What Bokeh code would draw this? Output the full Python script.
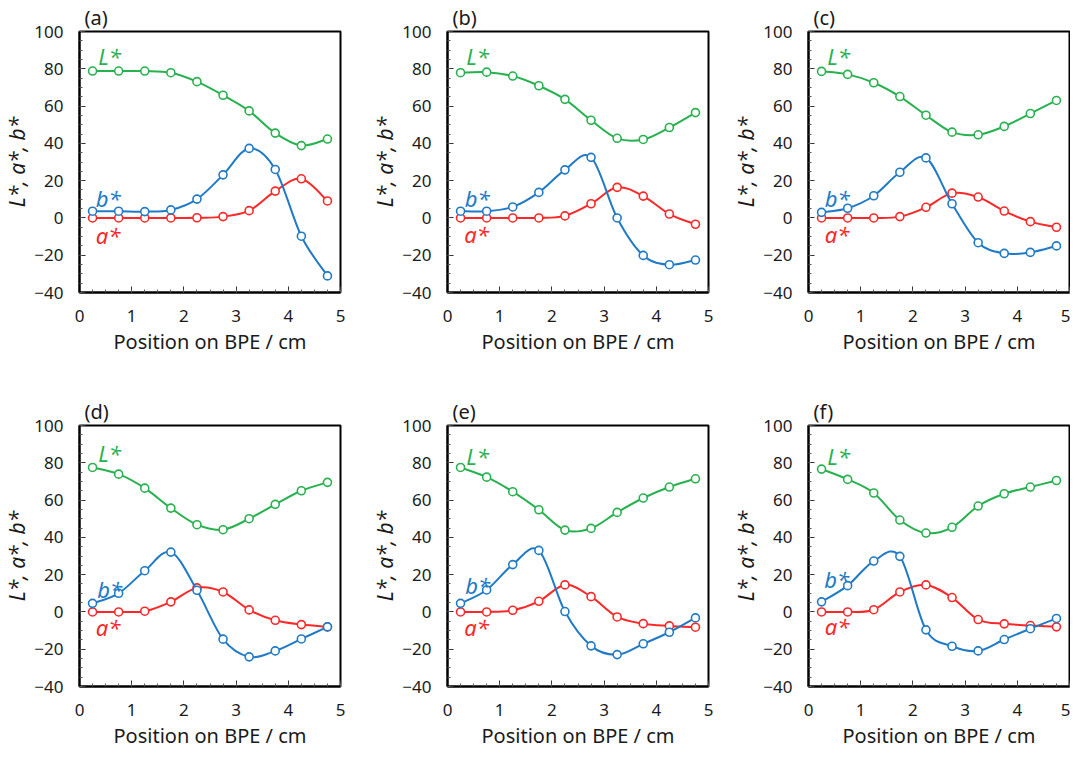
from bokeh.plotting import figure
from bokeh.layouts import row, column
from bokeh.models import SingleIntervalTicker, Range1d
from bokeh.embed import file_html
from bokeh.resources import INLINE
from bokeh.core.properties import value

# ---------------- data ----------------
position_cm = [0.25, 0.75, 1.25, 1.75, 2.25, 2.75, 3.25, 3.75, 4.25, 4.75]
panel_names = ["(a)", "(b)", "(c)", "(d)", "(e)", "(f)"]
x_ticks = [0, 1, 2, 3, 4, 5]
y_ticks = [-40, -20, 0, 20, 40, 60, 80, 100]

L_a = [78.8, 78.8, 78.8, 77.9, 73.1, 65.8, 57.4, 45.5, 38.8, 42.3]
a_a = [0.0, 0.0, 0.0, 0.0, 0.1, 0.7, 3.9, 14.4, 21.0, 9.1]
b_a = [3.6, 3.6, 3.4, 4.3, 10.1, 23.1, 37.3, 26.0, -9.8, -31.1]

L_b = [77.9, 78.2, 76.1, 70.9, 63.6, 52.4, 42.7, 42.1, 48.5, 56.5]
a_b = [0.0, 0.0, 0.0, 0.0, 1.1, 7.6, 16.4, 11.7, 2.1, -3.4]
b_b = [3.6, 3.6, 5.9, 13.7, 25.8, 32.5, 0.0, -20.1, -25.1, -22.6]

L_c = [78.6, 77.0, 72.5, 65.1, 55.1, 46.0, 44.6, 49.1, 56.0, 63.0]
a_c = [0.0, 0.0, 0.0, 0.7, 5.7, 13.3, 11.2, 3.7, -2.0, -5.0]
b_c = [3.0, 5.2, 11.9, 24.5, 32.2, 7.6, -13.3, -19.0, -18.5, -15.0]

L_d = [77.5, 73.9, 66.4, 55.7, 46.8, 44.1, 50.0, 57.7, 65.0, 69.5]
a_d = [0.0, 0.0, 0.4, 5.4, 12.9, 10.7, 1.1, -4.5, -6.8, -8.0]
b_d = [4.6, 10.0, 22.1, 32.1, 11.6, -14.6, -24.1, -20.9, -14.5, -8.0]

L_e = [77.5, 72.3, 64.5, 54.8, 43.9, 44.8, 53.4, 61.1, 67.0, 71.4]
a_e = [0.0, 0.0, 0.9, 5.7, 14.5, 8.2, -2.7, -6.3, -7.5, -8.2]
b_e = [4.6, 11.8, 25.4, 33.0, 0.2, -18.2, -22.9, -17.1, -10.9, -3.2]

L_f = [76.6, 71.1, 63.8, 49.3, 42.3, 45.4, 56.8, 63.4, 67.0, 70.5]
a_f = [0.0, 0.0, 1.2, 10.7, 14.5, 7.7, -4.1, -6.4, -7.3, -8.0]
b_f = [5.4, 14.1, 27.3, 29.8, -9.6, -18.4, -20.9, -14.8, -9.0, -3.5]

series_names = ["L*", "a*", "b*"]
# label anchor (x, y) per panel for L*, a*, b*
label_L = [(0.36, 87.0), (0.36, 86.9), (0.36, 86.9), (0.36, 85.0), (0.36, 83.5), (0.36, 83.5)]
label_a = [(0.31, -9.0), (0.32, -8.5), (0.31, -8.5), (0.31, -8.0), (0.32, -8.0), (0.31, -7.8)]
label_b = [(0.31, 10.5), (0.33, 10.5), (0.31, 10.5), (0.34, 12.5), (0.34, 14.3), (0.30, 17.4)]

panels = [(L_a, a_a, b_a), (L_b, a_b, b_b), (L_c, a_c, b_c),
          (L_d, a_d, b_d), (L_e, a_e, b_e), (L_f, a_f, b_f)]

# ---------------- style ----------------
GREEN = "#27B14F"
RED = "#FA2828"
BLUE = "#207AC6"
FONT = "Noto Sans"
TXT = "#1a1a1a"


def bezier_parts(xs, ys):
    n = len(xs)
    out = dict(x0=[], y0=[], x1=[], y1=[], cx0=[], cy0=[], cx1=[], cy1=[])
    for i in range(n - 1):
        ip = i - 1 if i > 0 else i
        iq = i + 2 if i + 2 < n else i + 1
        out["x0"].append(xs[i]); out["y0"].append(ys[i])
        out["x1"].append(xs[i + 1]); out["y1"].append(ys[i + 1])
        out["cx0"].append(xs[i] + (xs[i + 1] - xs[ip]) / 6.0)
        out["cy0"].append(ys[i] + (ys[i + 1] - ys[ip]) / 6.0)
        out["cx1"].append(xs[i + 1] - (xs[iq] - xs[i]) / 6.0)
        out["cy1"].append(ys[i + 1] - (ys[iq] - ys[i]) / 6.0)
    return out


def make_panel(k, borders):
    bl, br, bt, bb = borders
    p = figure(frame_width=261, frame_height=261,
               min_border_left=bl, min_border_right=br,
               min_border_top=bt, min_border_bottom=bb,
               x_range=Range1d(0, 5), y_range=Range1d(-40, 100),
               output_backend="svg", toolbar_location=None,
               background_fill_color="white", border_fill_color="white")
    p.grid.visible = False
    p.outline_line_color = "black"
    p.outline_line_width = 2
    p.outline_line_alpha = 1

    p.title.text = panel_names[k]
    p.title.align = "left"
    p.title.offset = 5
    p.title.text_font = FONT
    p.title.text_font_size = "20px"
    p.title.text_font_style = "normal"
    p.title.text_color = TXT
    p.title.standoff = 1

    p.xaxis.ticker = SingleIntervalTicker(interval=1, num_minor_ticks=4)
    p.yaxis.ticker = SingleIntervalTicker(interval=20, num_minor_ticks=4)
    for ax in (p.xaxis[0], p.yaxis[0]):
        ax.axis_line_color = "black"
        ax.axis_line_width = 2
        ax.major_tick_in = 6
        ax.major_tick_out = 0
        ax.minor_tick_in = 3
        ax.minor_tick_out = 0
        ax.major_tick_line_color = "#333333"
        ax.minor_tick_line_color = "#555555"
        ax.major_label_text_font = FONT
        ax.major_label_text_font_size = "17px"
        ax.major_label_text_color = TXT
        ax.axis_label_text_font = FONT
        ax.axis_label_text_color = TXT
    p.xaxis.major_label_standoff = 17
    p.yaxis.major_label_standoff = 16
    p.xaxis.axis_label = "Position on BPE / cm"
    p.xaxis.axis_label_text_font_size = "20px"
    p.xaxis.axis_label_text_font_style = "normal"
    p.xaxis.axis_label_standoff = 3
    p.yaxis.axis_label = "L*, a*, b*"
    p.yaxis.axis_label_text_font_size = "21px"
    p.yaxis.axis_label_text_font_style = "italic"
    p.yaxis.axis_label_standoff = 0

    Ls, As, Bs = panels[k]
    for ys, col in ((As, RED), (Bs, BLUE), (Ls, GREEN)):
        bz = bezier_parts(position_cm, ys)
        p.bezier(line_color=col, line_width=2, **bz)
        p.scatter(position_cm, ys, marker="circle", size=8,
                  fill_color="white", line_color=col, line_width=1.6)

    for (lx, ly), name, col in ((label_L[k], series_names[0], GREEN),
                                (label_a[k], series_names[1], RED),
                                (label_b[k], series_names[2], BLUE)):
        p.text(x=[lx], y=[ly], text=[name], text_color=col,
               text_font=value(FONT), text_font_style=value("italic"),
               text_font_size=value("22px"), text_baseline=value("alphabetic"),
               text_align=value("left"))
    return p


top_b = (31, 93)
bot_b = (40, 59)
cols = [(73, 27), (80, 20), (80, 1)]
figs = []
for k in range(6):
    c = cols[k % 3]
    r = top_b if k < 3 else bot_b
    figs.append(make_panel(k, (c[0], c[1], r[0], r[1])))

layout = column(row(*figs[:3]), row(*figs[3:]))
open("out.html", "w").write(file_html(layout, INLINE))
